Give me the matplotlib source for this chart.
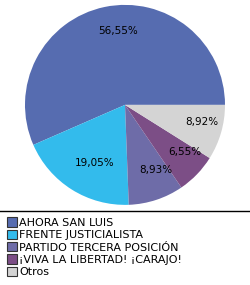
import matplotlib.pyplot as plt
from matplotlib.lines import Line2D

partidos = ["AHORA SAN LUIS", "FRENTE JUSTICIALISTA", "PARTIDO TERCERA POSICIÓN",
            "¡VIVA LA LIBERTAD! ¡CARAJO!", "Otros"]
votos = [56.55, 19.05, 8.93, 6.55, 8.92]
colores = ["#566cb0", "#33bbec", "#6e6ca8", "#7c4e86", "#d4d4d4"]

fig = plt.figure(figsize=(2.5, 2.85), dpi=100)
ax = fig.add_axes([0.1, 0.281, 0.8, 0.702])

wedges, texts, pcts = ax.pie(votos, colors=colores, startangle=0, counterclock=True,
                             autopct=lambda p: ("%.2f%%" % p).replace(".", ","),
                             pctdistance=0.72, wedgeprops=dict(linewidth=0),
                             textprops=dict(fontsize=7.5, color="black"))
# labels sit a little right/up of the wedge middle in the original
for t in pcts:
    x, y = t.get_position()
    t.set_position((x + 0.08, y + 0.03))
ax.set_xlim(-1, 1)
ax.set_ylim(-1, 1)
ax.set_aspect("equal")

# separator line above legend
fig.add_artist(Line2D([0, 1], [1 - 210.5 / 285, 1 - 210.5 / 285], color="black", lw=1))

leg = fig.legend(wedges, partidos, loc="upper left", bbox_to_anchor=(0.01, 1 - 213 / 285),
                 frameon=False, fontsize=8, handlelength=0.9, handleheight=0.9,
                 handletextpad=0.2, labelspacing=0.17, borderpad=0.2, borderaxespad=0.2)
for h in leg.legend_handles:
    h.set_edgecolor("#333333")
    h.set_linewidth(0.8)

fig.savefig("out.png", dpi=100)
